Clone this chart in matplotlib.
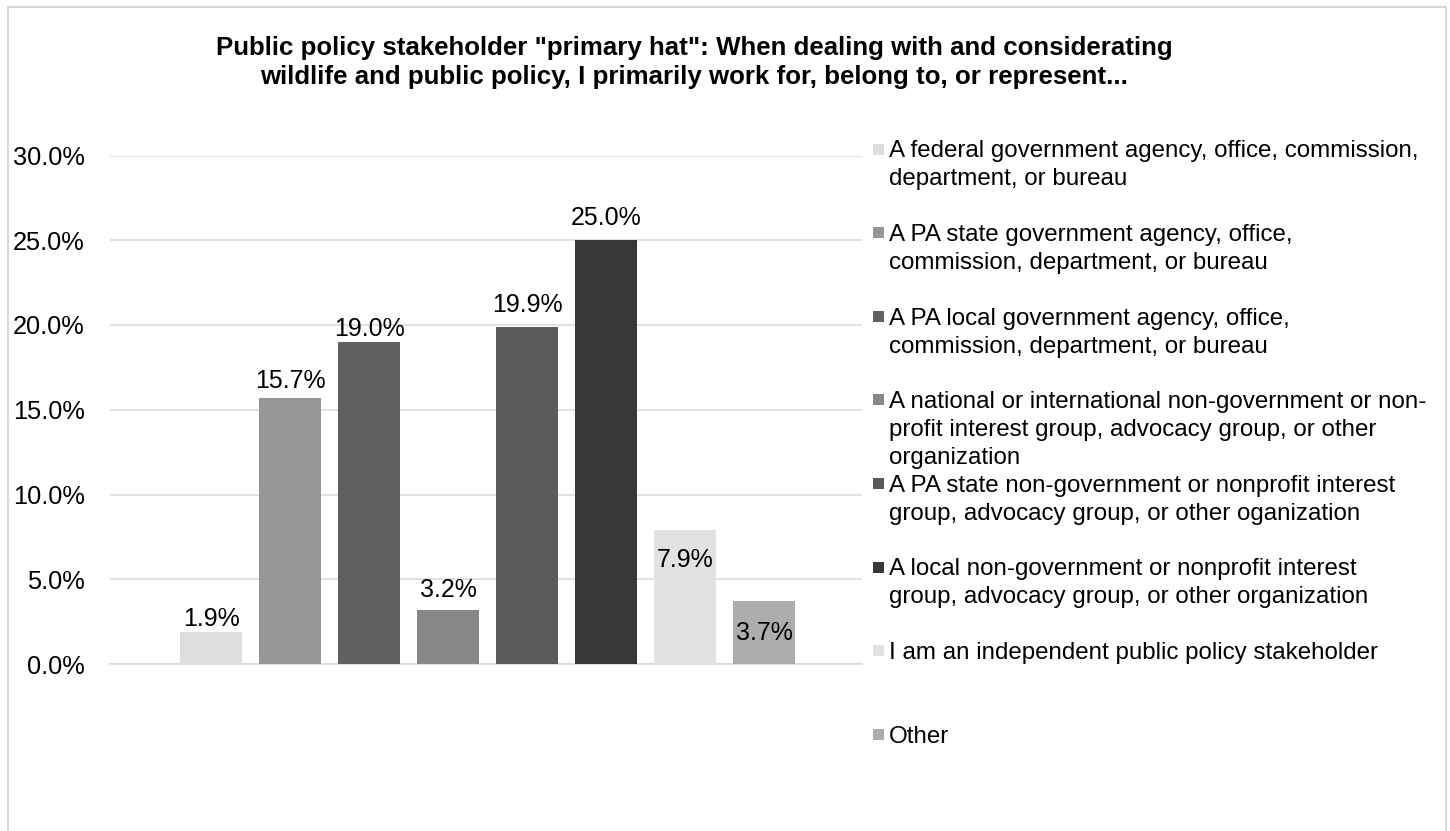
import matplotlib
matplotlib.use("Agg")
import matplotlib.pyplot as plt
from matplotlib.patches import Rectangle
from matplotlib.ticker import PercentFormatter

plt.rcParams['font.family'] = ['Liberation Sans', 'DejaVu Sans']

# Survey responses: share of stakeholders by "primary hat"
categories = [
    "A federal government agency, office, commission,\ndepartment, or bureau",
    "A PA state government agency, office,\ncommission, department, or bureau",
    "A PA local government agency, office,\ncommission, department, or bureau",
    "A national or international non-government or non-\nprofit interest group, advocacy group, or other\norganization",
    "A PA state non-government or nonprofit interest\ngroup, advocacy group, or other oganization",
    "A local non-government or nonprofit interest\ngroup, advocacy group, or other organization",
    "I am an independent public policy stakeholder",
    "Other",
]
shares = [1.9, 15.7, 19.0, 3.2, 19.9, 25.0, 7.9, 3.7]
value_labels = ["1.9%", "15.7%", "19.0%", "3.2%", "19.9%", "25.0%", "7.9%", "3.7%"]
y_ticks = [0, 5, 10, 15, 20, 25, 30]

colors = ["#dedede", "#969696", "#606060", "#878787",
          "#5a5a5a", "#383838", "#e2e2e2", "#adadad"]
# vertical offset (pixels) of each value label's baseline from the bar top
label_offsets_px = [6, 10, 6, 13, 15, 15, -37, -39]

W, H = 1450, 831
fig = plt.figure(figsize=(W / 100, H / 100), dpi=100)

# light frame around the chart area
fig.patches.append(Rectangle((7.5 / W, -0.05), (1446 - 7.5) / W, (H - 7) / H + 0.05,
                             transform=fig.transFigure, fill=False,
                             edgecolor="#d9d9d9", linewidth=1.5))

ax = fig.add_axes([110 / W, (H - 664) / H, (862 - 110) / W, (664 - 155.5) / H])
xs = list(range(len(shares)))
ax.bar(xs, shares, width=62 / 79, color=colors, zorder=3)
ax.set_xlim(-1.28, 8.24)
ax.set_ylim(0, 30)
ax.set_yticks(y_ticks)
ax.yaxis.set_major_formatter(PercentFormatter(decimals=1))
ax.grid(axis="y", color="#d9d9d9", linewidth=1.1, zorder=0)
ax.set_xticks([])
for side in ["left", "right", "top"]:
    ax.spines[side].set_visible(False)
ax.spines["bottom"].set_color("#d9d9d9")
ax.spines["bottom"].set_linewidth(1.1)
ax.tick_params(axis="y", length=0, pad=18, labelsize=18.3, labelcolor="#000000")

for x, v, lab, off in zip(xs, shares, value_labels, label_offsets_px):
    ax.annotate(lab, (x, v), xytext=(0, off * 0.72), textcoords="offset points",
                ha="center", va="baseline", fontsize=18, color="#000000", zorder=4)

# title
fig.text(694 / W, 1 - 62.5 / H,
         "Public policy stakeholder \"primary hat\": When dealing with and considerating\n"
         "wildlife and public policy, I primarily work for, belong to, or represent...",
         ha="center", va="center", fontsize=18.6, fontweight="bold",
         linespacing=1.3, color="#000000")

# legend drawn as swatches and wrapped labels
entry_y0 = 149
entry_step = 83.6
line_step = 28
for i, (lab, c) in enumerate(zip(categories, colors)):
    y = entry_y0 + i * entry_step
    fig.patches.append(Rectangle((873 / W, 1 - (y + 5.5) / H), 11 / W, 11 / H,
                                 transform=fig.transFigure, facecolor=c,
                                 edgecolor="none"))
    for j, line in enumerate(lab.split("\n")):
        fig.text(889 / W, 1 - (y + j * line_step + 8.5) / H, line,
                 ha="left", va="baseline", fontsize=17.4, color="#000000")

fig.savefig("out.png", dpi=100, facecolor="white")
